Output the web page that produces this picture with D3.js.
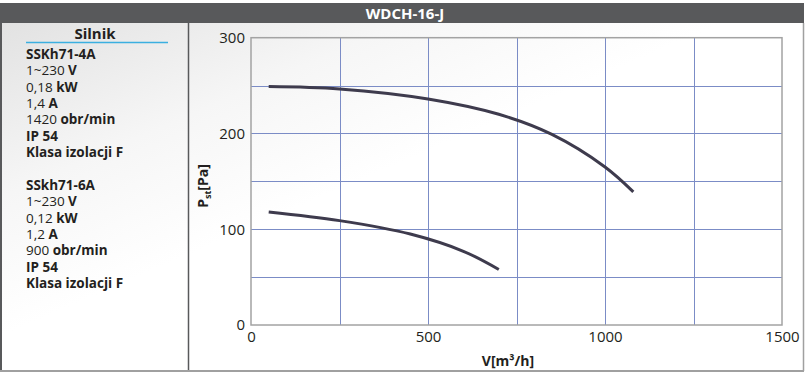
<!DOCTYPE html>
<html>
<head>
<meta charset="utf-8">
<script src="https://cdn.jsdelivr.net/npm/d3@7"></script>
<style>
  body { margin: 0; background: #fff; }
  svg text { font-family: "Open Sans", sans-serif; fill: #231f20; }
</style>
</head>
<body>
<div class="chart"></div>
<script>
// fan curves: [V m3/h, Pst Pa]
const curve4A = [[50, 249], [250, 246.5], [500, 236], [700, 220], [850, 199], [1000, 165], [1080, 139]]
const curve6A = [[50, 118], [250, 109], [450, 95], [600, 77], [700, 58]]
const xTicks = [0, 500, 1000, 1500]
const yTicks = [0, 100, 200, 300]
const xGrid = [250, 500, 750, 1000, 1250]
const yGrid = [50, 100, 150, 200, 250]

// motor description, [regular part, bold part]
const motor4A = ['SSKh71-4A', ['1~230 ', 'V'], ['0,18 ', 'kW'], ['1,4 ', 'A'], ['1420 ', 'obr/min'], ['', 'IP 54'], ['', 'Klasa izolacji F']]
const motor6A = ['SSkh71-6A', ['1~230 ', 'V'], ['0,12 ', 'kW'], ['1,2 ', 'A'], ['900 ', 'obr/min'], ['', 'IP 54'], ['', 'Klasa izolacji F']]

const svg = d3.select('.chart')
    .append('svg')
        .attr('width', 810)
        .attr('height', 377)

//background sheen
const defs = svg.append('defs')
const grad = defs.append('linearGradient')
    .attr('id', 'sheen')
    .attr('x1', 0).attr('y1', 0).attr('x2', 1).attr('y2', 1)
grad.append('stop').attr('offset', '0%').attr('stop-color', '#e2e2e2')
grad.append('stop').attr('offset', '25%').attr('stop-color', '#f6f6f6')
grad.append('stop').attr('offset', '45%').attr('stop-color', '#ffffff')

svg.append('rect')
    .attr('x', 1).attr('y', 23)
    .attr('width', 802).attr('height', 348)
    .attr('fill', 'url(#sheen)')

//title bar
svg.append('rect')
    .attr('x', 0).attr('y', 3)
    .attr('width', 804).attr('height', 20)
    .attr('fill', '#58595b')

svg.append('text')
    .attr('x', 405).attr('y', 18.5)
    .attr('text-anchor', 'middle')
    .style('font-size', '15px')
    .style('font-weight', 'bold')
    .style('fill', '#fff')
    .text('WDCH-16-J')

//frame
svg.append('line').attr('x1', 1).attr('y1', 23).attr('x2', 1).attr('y2', 371)
    .style('stroke', '#58595b').style('stroke-width', 2)
svg.append('line').attr('x1', 188.5).attr('y1', 23).attr('x2', 188.5).attr('y2', 371)
    .style('stroke', '#58595b').style('stroke-width', 1.5)
svg.append('line').attr('x1', 803.5).attr('y1', 23).attr('x2', 803.5).attr('y2', 371)
    .style('stroke', '#a0a0a0').style('stroke-width', 1.5)
svg.append('line').attr('x1', 0).attr('y1', 371).attr('x2', 804).attr('y2', 371)
    .style('stroke', '#a0a0a0').style('stroke-width', 2)

//left panel
svg.append('text')
    .attr('x', 95).attr('y', 38.5)
    .attr('text-anchor', 'middle')
    .style('font-size', '15px')
    .style('font-weight', 'bold')
    .text('Silnik')

svg.append('line')
    .attr('x1', 26).attr('y1', 42.5).attr('x2', 168).attr('y2', 42.5)
    .style('stroke', '#3bafe0').style('stroke-width', 1.5)

const drawMotor = (rows, top) => {
    const g = svg.append('g').attr('transform', `translate(26, ${top})`)
    const texts = g.selectAll('text')
        .data(rows)
        .enter()
        .append('text')
            .attr('x', 0)
            .attr('y', (d, i) => i * 16.3)
            .style('font-size', '13.5px')
    texts.filter((d, i) => i === 0)
        .style('font-weight', 'bold')
        .text((d) => d)
    texts.filter((d, i) => i > 0)
        .each(function(d) {
            const t = d3.select(this)
            if (d[0]) t.append('tspan').text(d[0])
            t.append('tspan').style('font-weight', 'bold').text(d[1])
        })
}
drawMotor(motor4A, 59)
drawMotor(motor6A, 190)

//chart
const x = d3.scaleLinear().domain([0, 1500]).range([251, 782])
const y = d3.scaleLinear().domain([0, 300]).range([325, 37.7])

const grid = svg.append('g').attr('id', 'grid')
grid.selectAll('.vgrid')
    .data(xGrid)
    .enter()
    .append('line')
        .attr('x1', (d) => Math.round(x(d)) + 0.5).attr('x2', (d) => Math.round(x(d)) + 0.5)
        .attr('y1', y(300)).attr('y2', y(0))
        .style('stroke', '#7b8cc6').style('stroke-width', 1)
grid.selectAll('.hgrid')
    .data(yGrid)
    .enter()
    .append('line')
        .attr('x1', x(0)).attr('x2', x(1500))
        .attr('y1', (d) => Math.round(y(d)) + 0.5).attr('y2', (d) => Math.round(y(d)) + 0.5)
        .style('stroke', '#7b8cc6').style('stroke-width', 1)

svg.append('rect')
    .attr('x', x(0)).attr('y', y(300))
    .attr('width', x(1500) - x(0)).attr('height', y(0) - y(300))
    .style('fill', 'none')
    .style('stroke', '#a3a3a3')
    .style('stroke-width', 1.5)

const xAxis = svg.append('g')
    .attr('transform', `translate(0, ${y(0)})`)
    .call(d3.axisBottom(x).tickValues(xTicks).tickFormat(d3.format('d')).tickSize(0).tickPadding(6))
const yAxis = svg.append('g')
    .attr('transform', `translate(${x(0)}, 0)`)
    .call(d3.axisLeft(y).tickValues(yTicks).tickFormat(d3.format('d')).tickSize(0).tickPadding(6))

;[xAxis, yAxis].forEach((a) => {
    a.select('.domain').remove()
    a.selectAll('text')
        .style('font-family', '"Open Sans", sans-serif')
        .style('font-size', '15px')
        .style('fill', '#231f20')
})

//curves
const line = d3.line()
    .x((d) => x(d[0]))
    .y((d) => y(d[1]))
    .curve(d3.curveCatmullRom)

svg.selectAll('.curve')
    .data([curve4A, curve6A])
    .enter()
    .append('path')
        .attr('d', line)
        .style('fill', 'none')
        .style('stroke', '#3e3b4d')
        .style('stroke-width', 3)

//axis titles
const yTitle = svg.append('text')
    .attr('transform', 'translate(208, 186) rotate(-90)')
    .attr('text-anchor', 'middle')
    .style('font-size', '14px')
    .style('font-weight', 'bold')
yTitle.append('tspan').text('P')
yTitle.append('tspan').attr('dy', 3).style('font-size', '9px').text('st')
yTitle.append('tspan').attr('dy', -3).text('[Pa]')

svg.append('text')
    .attr('x', 508).attr('y', 366)
    .attr('text-anchor', 'middle')
    .style('font-size', '14px')
    .style('font-weight', 'bold')
    .text('V[m³/h]')
</script>
</body>
</html>
